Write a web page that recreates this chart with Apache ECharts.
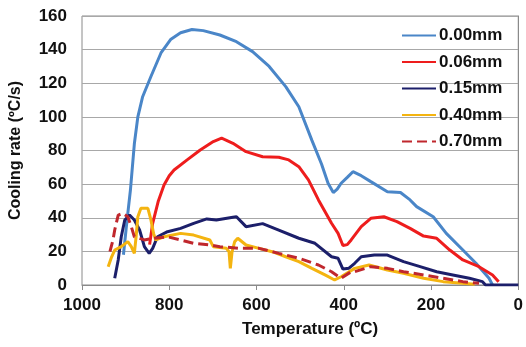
<!DOCTYPE html>
<html><head><meta charset="utf-8">
<script src="https://cdn.jsdelivr.net/npm/echarts@6/dist/echarts.min.js"></script>
<style>html,body{margin:0;padding:0;background:#fff}#c{width:526px;height:347px}</style>
</head><body><div id="c"></div>
<script>
const names = ['0.00mm','0.06mm','0.15mm','0.40mm','0.70mm'];
const xTicks = [1000,800,600,400,200,0];
const yTicks = [0,20,40,60,80,100,120,140,160];

const t000 = [905,897,889,880,872,861,842,819,797,774,748,722,684,646,609,571,533,503,473,451,436,424,415,406,392,379,360,338,300,270,248,233,195,165,127,97,67,59];
const r000 = [18,38,56.5,84,100,112,124,138,146,150,152,151.3,148.7,144.7,138.8,130,118,106,86,72,60.5,55,57,60.5,64,67.4,65,61.5,55.5,55,50.6,46.6,40.6,30.7,20.8,12.9,4,0];

const t006 = [845,838,825,812,800,789,759,729,699,680,654,624,586,549,526,503,481,458,428,413,402,399,392,383,360,338,308,278,248,217,187,157,127,90,59,45];
const r006 = [24,36.7,50,59.5,65,68.4,74.4,80.3,85.3,87.3,84.3,79.3,76.3,76,74.4,70.4,62.5,50.6,36.7,30.7,23.5,22.8,24,26.8,34.7,39.7,40.6,37.7,33.7,29.1,27.8,20.8,14.9,10.9,6,2];

const t015 = [925,917,910,902,891,880,868,857,846,838,827,804,774,744,714,692,654,646,624,586,549,503,466,428,413,402,388,375,360,330,300,263,225,187,150,112,82,75,0];
const r015 = [4,14.9,28.7,38.7,41.6,38.7,32.7,22.8,18.8,21.8,28.7,31.7,33.7,36.7,39.3,38.7,40.3,40.6,34.7,36.5,32.7,27.8,24.8,16.8,15.9,9.5,10,12.9,16.8,17.8,17.8,13.9,10.9,7.9,6,4,2,0,0];

const t040 = [940,932,925,910,895,887,880,876,872,865,849,842,836,831,812,774,744,707,699,669,663,660,656,650,643,624,594,564,533,503,473,443,421,406,375,342,300,263,217,172,127,100];
const r040 = [10.9,16.8,20.8,22.8,25.8,22.8,18.8,28.7,40.6,45.6,45.6,38.7,30.7,26.8,28.7,30.7,29.7,26.8,22.8,21.8,19.8,9.9,19.8,25.8,27.8,23.8,21.8,19.8,16.8,13.9,9.9,6,3,4.9,9.9,11.9,8.9,7,4,2,1,0.5];

const t070 = [936,929,925,917,906,895,887,880,857,835,804,774,744,707,684,639,594,549,503,458,428,406,402,383,375,338,300,263,217,172,127,90];
const r070 = [19.8,26.8,32.7,41.6,42.6,40.6,34.7,28.7,26.8,27.8,28.7,26.8,24.8,23.8,22.8,21.8,21.8,18.8,15.9,11.9,7.9,4,4,7.9,7.9,10.9,9.9,7.9,6,4,2,1];

const temps = [t000,t006,t015,t040,t070];
const rates = [r000,r006,r015,r040,r070];
const colors = ['#4a86c8','#ee1d1d','#1c1f6a','#f4b410','#c0272d'];
const dashes = ['solid','solid','solid','solid',[10,5]];

const chart = echarts.init(document.getElementById('c'), null, {renderer:'canvas'});
const font = 'Liberation Sans, Arial, sans-serif';
chart.setOption({
  animation:false,
  backgroundColor:'#fff',
  grid:{left:80,right:3,top:16,bottom:62,show:true,borderColor:'#8a8a8a',borderWidth:1},
  legend:{
    orient:'vertical', left:396, top:22, itemWidth:34, itemHeight:17, itemGap:9.5,
    data:names,
    itemStyle:{opacity:0},
    textStyle:{fontFamily:font,fontWeight:'bold',fontSize:17,color:'#111',lineHeight:17,padding:[0,0,0,-2]}
  },
  xAxis:{
    type:'value', inverse:true, min:0, max:1000, interval:200,
    name:'Temperature (ºC)', nameLocation:'middle', nameGap:36,
    nameTextStyle:{fontFamily:font,fontWeight:'bold',fontSize:17,color:'#111',padding:[0,0,0,20]},
    axisLine:{show:true,lineStyle:{color:'#8a8a8a',width:1}},
    axisTick:{show:true,length:5,lineStyle:{color:'#8a8a8a'}},
    splitLine:{show:false},
    axisLabel:{fontFamily:font,fontWeight:'bold',fontSize:17,color:'#111',margin:12,
      formatter:v=>xTicks.includes(v)?String(v):''}
  },
  yAxis:{
    type:'value', min:0, max:160, interval:20,
    name:'Cooling rate (ºC/s)', nameLocation:'middle', nameGap:58, nameRotate:90,
    nameTextStyle:{fontFamily:font,fontWeight:'bold',fontSize:16,color:'#111',padding:[0,0,0,0]},
    axisLine:{show:true,lineStyle:{color:'#8a8a8a'}},
    axisTick:{show:false},
    splitLine:{show:true,lineStyle:{color:'#a8a8a8',width:1}},
    axisLabel:{fontFamily:font,fontWeight:'bold',fontSize:17,color:'#111',margin:15,
      formatter:v=>yTicks.includes(v)?String(v):''}
  },
  series:names.map((n,i)=>({
    name:n, type:'line', symbol:'none', smooth:false,
    data:temps[i].map((t,k)=>[t,rates[i][k]]),
    lineStyle:{color:colors[i],width:3,type:dashes[i]},
    itemStyle:{color:colors[i]}
  }))
});
</script>
</body></html>
